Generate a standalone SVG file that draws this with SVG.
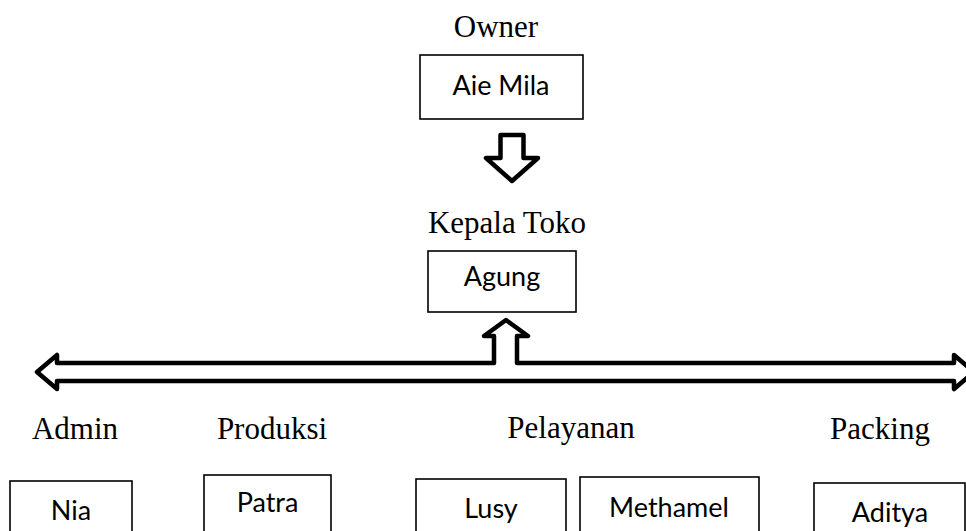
<svg xmlns="http://www.w3.org/2000/svg" width="966" height="531" viewBox="0 0 966 531">
<style>
.t{font-family:"Liberation Serif","Times New Roman",serif;font-size:31px;fill:#000;text-anchor:middle}
.n{font-family:Lato,"Liberation Sans",sans-serif;font-size:27px;fill:#000;text-anchor:middle}
.box{fill:#fff;stroke:#000;stroke-width:1.6}
.arr{fill:#fff;stroke:#000;stroke-width:4.5;stroke-linejoin:round}
</style>
<rect width="966" height="531" fill="#fff"/>
<g id="connectors">
<path class="arr" d="M500.5,135 L523.5,135 L523.5,158 L538,158 L512,181 L486,158 L500.5,158 Z"/>
<path class="arr" d="M37,372 L57,355 L57,363 L494,363 L494,336 L484,336 L506,320 L528,336 L517,336 L517,363 L954,363 L954,355 L974,372 L954,389 L954,381 L57,381 L57,389 Z"/>
</g>
<g id="owner">
<text class="t" x="496" y="37">Owner</text>
<rect class="box" x="420" y="55" width="163" height="64"/>
<text class="n" x="501" y="95">Aie Mila</text>
</g>
<g id="kepala-toko">
<text class="t" x="507" y="233">Kepala Toko</text>
<rect class="box" x="428" y="251" width="148" height="61"/>
<text class="n" x="502" y="286">Agung</text>
</g>
<g id="admin">
<text class="t" x="75" y="439">Admin</text>
<rect class="box" x="10" y="481" width="122" height="70"/>
<text class="n" x="71" y="520">Nia</text>
</g>
<g id="produksi">
<text class="t" x="272" y="439">Produksi</text>
<rect class="box" x="204" y="475" width="127" height="70"/>
<text class="n" x="267.5" y="512">Patra</text>
</g>
<g id="pelayanan">
<text class="t" x="571" y="438">Pelayanan</text>
<rect class="box" x="416" y="479" width="150" height="70"/>
<text class="n" x="491" y="518">Lusy</text>
<rect class="box" x="580" y="477" width="179" height="70"/>
<text class="n" x="669" y="517">Methamel</text>
</g>
<g id="packing">
<text class="t" x="880" y="439">Packing</text>
<rect class="box" x="814" y="483" width="151" height="70"/>
<text class="n" x="890" y="522">Aditya</text>
</g>
</svg>
